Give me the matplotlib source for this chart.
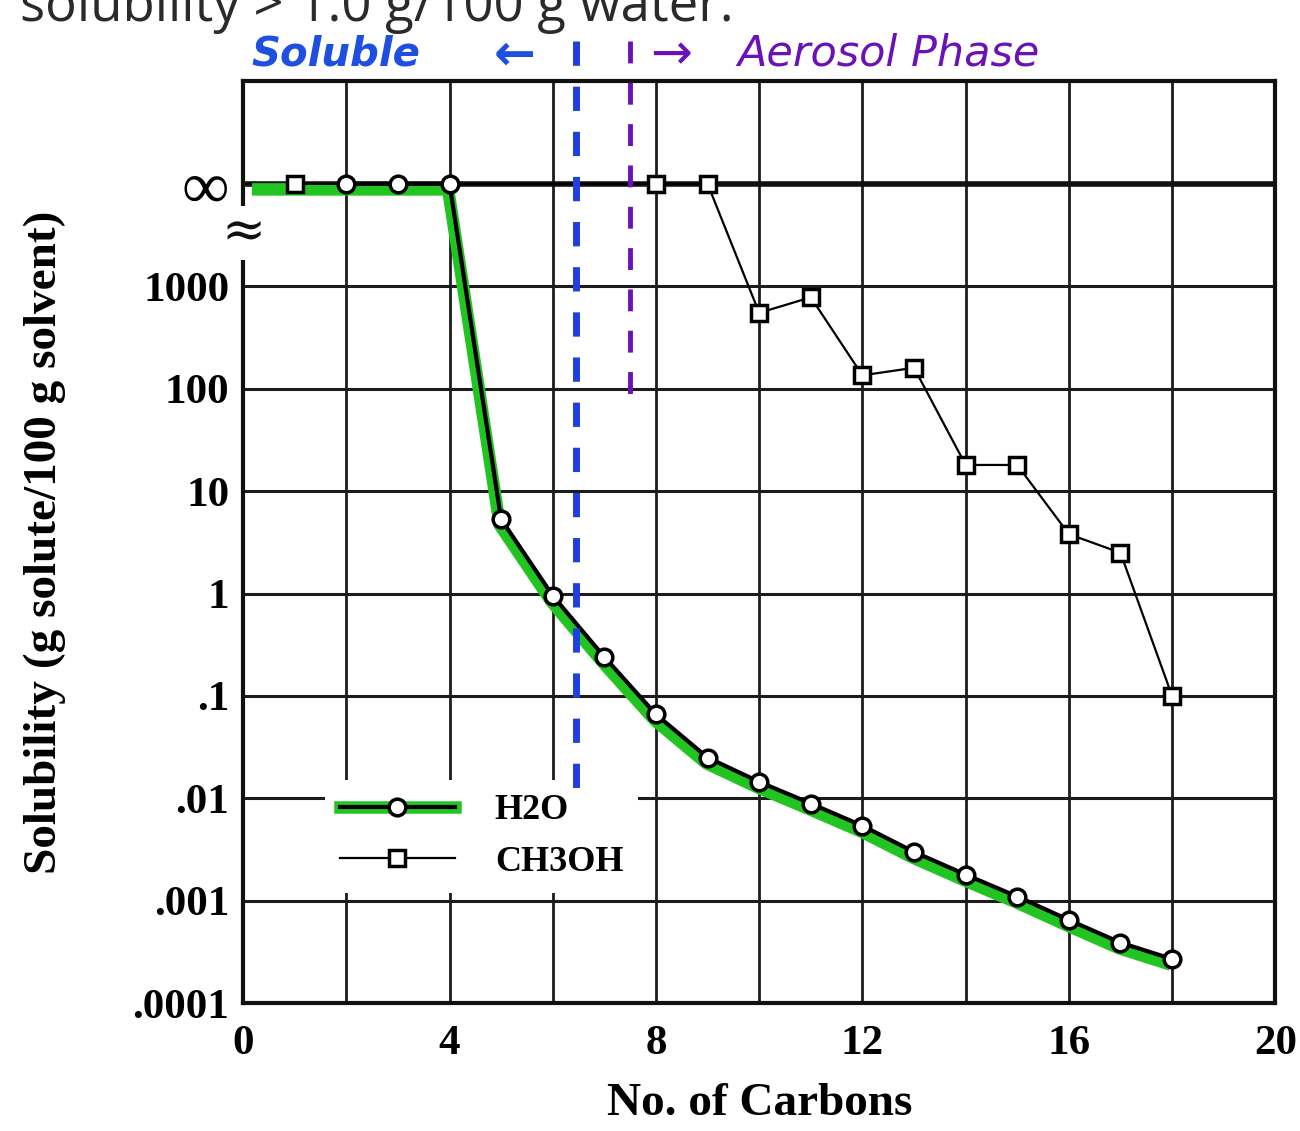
import matplotlib
matplotlib.use("Agg")
from matplotlib import pyplot as plt
from matplotlib.lines import Line2D
import matplotlib.transforms as mtransforms

# values (1e4 stands for the "infinity" row)
INF = 1e4
h2o_x = [2, 3, 4, 5, 6, 7, 8, 9, 10, 11, 12, 13, 14, 15, 16, 17, 18]
h2o_y = [INF, INF, INF, 5.3, 0.95, 0.24, 0.066, 0.025, 0.0145, 0.0089,
         0.0054, 0.003, 0.0018, 0.0011, 0.00065, 0.00039, 0.00027]
ch3oh_x = [1, 8, 9, 10, 11, 12, 13, 14, 15, 16, 17, 18]
ch3oh_y = [INF, INF, INF, 550, 780, 135, 160, 18, 18, 3.8, 2.5, 0.1]

# green marker highlight starts a little left of the first point
hl_x = [0.2] + h2o_x
hl_y = [INF] + h2o_y

y_ticks = [1e-4, 1e-3, 1e-2, 1e-1, 1, 10, 100, 1000, INF]
y_labels = [".0001", ".001", ".01", ".1", "1", "10", "100", "1000", "\u221e"]
x_ticks = [0, 4, 8, 12, 16, 20]

blue_line_x = 6.45
purple_line_x = 7.5

serif = "Liberation Serif"

fig = plt.figure(figsize=(13, 11.31), dpi=100)
ax = fig.add_axes([0.187, 0.113, 0.794, 0.815])
ax.set_yscale("log")
ax.set_xlim(0, 20)
ax.set_ylim(1e-4, 1e5)

# grid
for gx in range(2, 20, 2):
    ax.axvline(gx, color="#1c1c1c", lw=2, zorder=1)
for gy in y_ticks[1:-1]:
    ax.axhline(gy, color="#1c1c1c", lw=2.2, zorder=1)
ax.axhline(INF, color="#111111", lw=4, zorder=1)

# green highlighter under water curve
off = mtransforms.offset_copy(ax.transData, fig=fig, x=-1, y=-4, units="points")
ax.plot(hl_x, hl_y, color="#22c422", lw=9, solid_capstyle="butt",
        transform=off, zorder=2)

ax.plot(h2o_x, h2o_y, color="black", lw=3, marker="o", ms=12,
        mfc="white", mec="black", mew=2.5, zorder=4)
ax.plot(ch3oh_x, ch3oh_y, color="black", lw=1.6, marker="s", ms=12,
        mfc="white", mec="black", mew=2.5, zorder=3)

for s in ax.spines.values():
    s.set_linewidth(3)
    s.set_color("#111111")

ax.set_xticks(x_ticks)
ax.set_xticklabels([str(t) for t in x_ticks], fontfamily=serif,
                   fontweight="bold", fontsize=31)
ax.set_yticks(y_ticks)
ax.set_yticklabels(y_labels, fontfamily=serif, fontweight="bold", fontsize=31)
ax.yaxis.get_ticklabels()[-1].set_fontsize(48)
ax.yaxis.get_ticklabels()[-1].set_fontweight("normal")
ax.minorticks_off()
ax.tick_params(length=0)
ax.tick_params(axis="x", pad=16)
ax.tick_params(axis="y", pad=10)

ax.set_xlabel("No. of Carbons", fontfamily=serif, fontweight="bold",
              fontsize=34, labelpad=14)
ax.set_ylabel("Solubility (g solute/100 g solvent)", fontfamily=serif,
              fontweight="bold", fontsize=34, labelpad=48)

# axis break mark
ax.text(0, 10**3.52, "\u2248", transform=ax.get_yaxis_transform(),
        ha="center", va="center", fontsize=38, fontfamily="DejaVu Serif",
        color="#111111", zorder=10, clip_on=False,
        bbox=dict(facecolor="white", edgecolor="none", pad=1))

# legend
h_water = (Line2D([], [], color="#22c422", lw=9),
           Line2D([], [], color="black", lw=3, marker="o", ms=12,
                  mfc="white", mec="black", mew=2.5))
h_meoh = Line2D([], [], color="black", lw=1.6, marker="s", ms=12,
                mfc="white", mec="black", mew=2.5)
leg = ax.legend([h_water, h_meoh], ["H2O", "CH3OH"], loc="upper left",
                bbox_to_anchor=(0.062, 0.262), frameon=True, framealpha=1,
                edgecolor="none", facecolor="white", handlelength=3.2,
                handletextpad=1.1, labelspacing=0.5, borderpad=0.4,
                prop=dict(family=serif, weight="bold", size=26))
leg.set_zorder(6)

# handwritten notes
ax.plot([blue_line_x, blue_line_x], [2.5e5, 0.0095], color="#1f3fe0",
        lw=5, ls=(0, (3.5, 3)), clip_on=False, zorder=7)
ax.plot([purple_line_x, purple_line_x], [2.5e5, 70], color="#6a12b8",
        lw=3.5, ls=(0, (4.5, 4)), clip_on=False, zorder=7)
hand = "DejaVu Sans"
fig.text(0.193, 0.952, "Soluble", color="#1f4fe0", fontsize=29,
         fontfamily=hand, style="oblique", fontweight="bold", ha="left",
         va="center")
fig.text(0.38, 0.951, "\u2190", color="#1f4fe0", fontsize=36,
         fontfamily=hand, fontweight="bold", ha="left", va="center")
fig.text(0.5, 0.951, "\u2192", color="#6a12b8", fontsize=36,
         fontfamily=hand, ha="left", va="center")
fig.text(0.567, 0.953, "Aerosol Phase", color="#6a12b8",
         fontsize=31, fontfamily=hand, style="oblique", ha="left",
         va="center")

# cut-off line of text from the page above
fig.text(0.015, 0.981, "solubility > 1.0 g/100 g water.", color="#2a2a2a",
         fontsize=38, fontfamily="Open Sans", ha="left", va="baseline")

fig.savefig("out.png", dpi=100)
